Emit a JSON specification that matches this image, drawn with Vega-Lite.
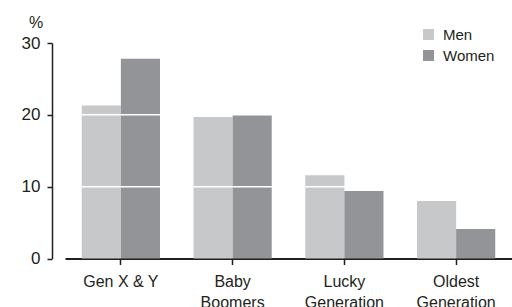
{
  "$schema": "https://vega.github.io/schema/vega-lite/v6.json",
  "width": 447,
  "height": 215.5,
  "autosize": {"type": "none"},
  "padding": {"left": 65, "top": 43, "right": 0, "bottom": 48.5},
  "background": "white",
  "config": {
    "view": {"stroke": null},
    "font": "Liberation Sans",
    "text": {"font": "Liberation Sans"}
  },
  "data": {
    "values": [
      {"gen": "Gen X & Y", "sex": "Men", "value": 21.3},
      {"gen": "Gen X & Y", "sex": "Women", "value": 27.8},
      {"gen": "Baby|Boomers", "sex": "Men", "value": 19.7},
      {"gen": "Baby|Boomers", "sex": "Women", "value": 20.1},
      {"gen": "Lucky|Generation", "sex": "Men", "value": 11.6},
      {"gen": "Lucky|Generation", "sex": "Women", "value": 9.4},
      {"gen": "Oldest|Generation", "sex": "Men", "value": 8.0},
      {"gen": "Oldest|Generation", "sex": "Women", "value": 4.1}
    ]
  },
  "layer": [
    {
      "mark": {"type": "bar"},
      "encoding": {
        "x": {
          "field": "gen", "type": "nominal", "sort": null,
          "scale": {"paddingInner": 0.3, "paddingOuter": 0.15},
          "axis": {
            "title": null,
            "labelAngle": 0,
            "labelExpr": "split(datum.label, '|')",
            "labelFont": "Liberation Sans",
            "labelFontSize": 16,
            "labelLineHeight": 21,
            "labelColor": "#231f20",
            "labelPadding": 9,
            "tickSize": 6,
            "tickWidth": 1.5,
            "tickColor": "#231f20",
            "domainColor": "#231f20",
            "domainWidth": 2,
            "grid": false
          }
        },
        "xOffset": {"field": "sex", "type": "nominal", "scale": {"paddingInner": 0, "paddingOuter": 0}},
        "y": {
          "field": "value", "type": "quantitative",
          "scale": {"domain": [0, 30], "nice": false, "zero": true},
          "axis": {
            "values": [0, 10, 20, 30],
            "offset": 13,
            "grid": false,
            "title": "%",
            "titleAngle": 0,
            "titleAlign": "center",
            "titleBaseline": "alphabetic",
            "titleX": -16.5,
            "titleY": -16,
            "titleFont": "Liberation Sans",
            "titleFontSize": 16,
            "titleFontWeight": "normal",
            "titleColor": "#231f20",
            "labelFont": "Liberation Sans",
            "labelFontSize": 17,
            "labelColor": "#231f20",
            "labelPadding": 7,
            "tickSize": 5,
            "tickWidth": 1.5,
            "tickColor": "#231f20",
            "domainColor": "#231f20",
            "domainWidth": 1.5
          }
        },
        "color": {
          "field": "sex", "type": "nominal",
          "scale": {"domain": ["Men", "Women"], "range": ["#c7c8ca", "#929497"]},
          "legend": {
            "title": null,
            "orient": "none",
            "legendX": 356,
            "legendY": -16,
            "symbolType": "square",
            "symbolSize": 121,
            "symbolStrokeWidth": 0,
            "symbolOpacity": 1,
            "labelFont": "Liberation Sans",
            "labelFontSize": 15,
            "labelColor": "#231f20",
            "labelOffset": 7,
            "rowPadding": 5,
            "padding": 0
          }
        }
      }
    },
    {
      "data": {"values": [{"v": 10}, {"v": 20}]},
      "mark": {"type": "rule", "color": "white", "strokeWidth": 1.5},
      "encoding": {
        "y": {"field": "v", "type": "quantitative"}
      }
    }
  ]
}
